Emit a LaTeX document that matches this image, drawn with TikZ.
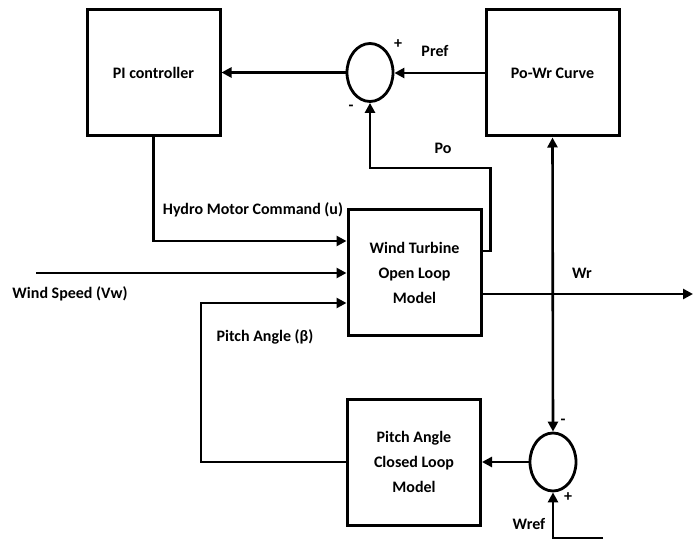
\documentclass[tikz,border=0pt]{standalone}
\usepackage{fontspec}
\setmainfont{Carlito}
\usetikzlibrary{arrows.meta,shapes.geometric}
\begin{document}
\begin{tikzpicture}[x=1pt,y=-1pt,
 blk/.style={draw,line width=3pt,minimum width=133pt,minimum height=126pt,align=center,inner sep=0pt,font=\bfseries\fontsize{16}{25}\selectfont},
 sumj/.style={draw,ellipse,line width=2.8pt,minimum width=46pt,minimum height=58pt,inner sep=0pt},
 conn/.style={line width=2.6pt,-{Triangle[length=10pt,width=10pt]}},
 both/.style={line width=2.6pt,{Triangle[length=10pt,width=10pt]}-{Triangle[length=10pt,width=10pt]}},
 lbl/.style={font=\bfseries\fontsize{16}{18}\selectfont,inner sep=0pt}]
\useasboundingbox (0,0) rectangle (694,540);
\node[blk] (pi) at (153.5,73) {PI controller};
\node[blk] (pw) at (552.5,73) {Po-Wr Curve};
\node[blk] (wt) at (414.5,273) {Wind Turbine\\Open Loop\\Model};
\node[blk] (pa) at (414,462) {Pitch Angle\\Closed Loop\\Model};
\node[sumj] (s1) at (370,72.5) {};
\node[sumj] (s2) at (553,462) {};
\coordinate (vw) at (36,273);
\coordinate (wr) at (693,294);
\coordinate (wref) at (603,538);
% connectors
\draw[conn] (s1.west) -- (s1.west -| pi.east);
\draw[conn] (pw.west) -- (pw.west -| s1.east);
\draw[conn] ([yshift=22pt]wt.east) -- ++(8,0) -- ++(0,-83) -| (s1.south);
\draw[conn] (pi.south) |- ([yshift=32pt]wt.west);
\draw[conn] (vw) -- (wt.west);
\draw[conn] (pa.west) -- ++(-145,0) |- ([yshift=-30pt]wt.west);
\draw[conn] ([yshift=-21pt]wt.east) -- (wr);
\draw[both] (pw.south) -- (s2.north);
\draw[conn] (s2.west) -- (s2.west -| pa.east);
\draw[conn] (wref) -| (s2.south);
% labels
\node[lbl] (lp1) at (398,44) {+};
\node[lbl] (lm1) at (351,108) {-};
\node[lbl] (lpref) at (435,51) {Pref};
\node[lbl] (lpo) at (443,148) {Po};
\node[lbl] (lu) at (253,210) {Hydro Motor Command (u)};
\node[lbl] (lvw) at (70,294) {Wind Speed (Vw)};
\node[lbl] (lbeta) at (265,337) {Pitch Angle (β)};
\node[lbl] (lwr) at (582,273) {Wr};
\node[lbl] (lm2) at (563,422) {-};
\node[lbl] (lp2) at (568,497) {+};
\node[lbl] (lwref) at (529,524) {Wref};
\end{tikzpicture}
\end{document}
